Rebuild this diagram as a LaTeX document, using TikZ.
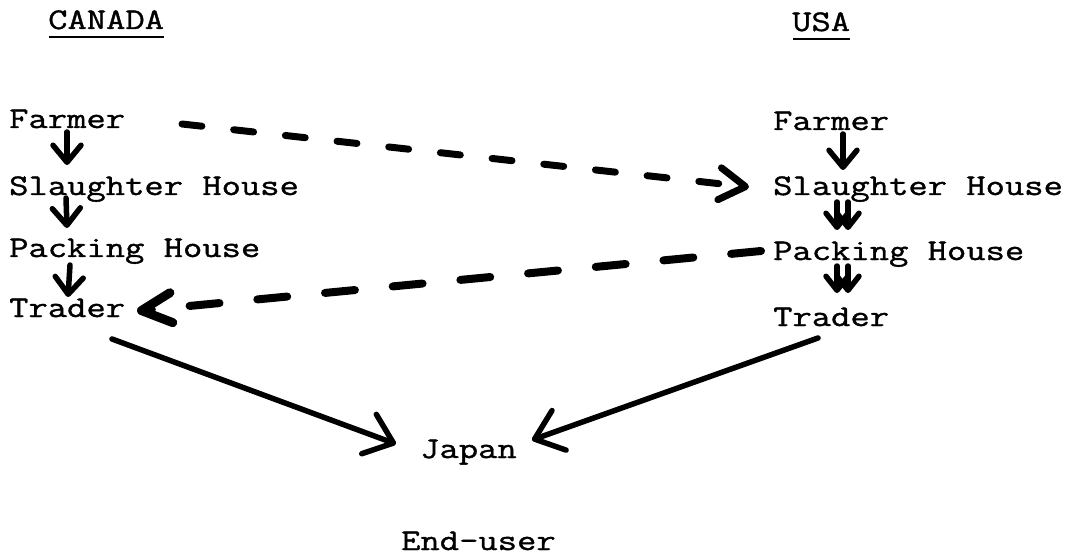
\documentclass[tikz,border=0pt]{standalone}
\usepackage{fontspec}
\newfontfamily\typewriter{Latin Modern Mono}[FakeStretch=1.25,FakeBold=1.2]
\usetikzlibrary{arrows.meta}
\begin{document}
\begin{tikzpicture}[x=1pt,y=-1pt,
  lbl/.style={anchor=base west, inner sep=0pt,
    font=\typewriter\fontsize{30}{36}\selectfont},
  uline/.style={line width=2.5pt},
  ink/.style={line width=5.5pt, line cap=round, line join=round},
  smallhead/.style={-{Straight Barb[length=17pt,width=28pt,round]}},
  twinhead/.style={-{Straight Barb[length=14pt,width=22pt,round]}},
  bighead/.style={-{Straight Barb[length=26pt,width=42pt,round]}},
  dashtop/.style={line width=7pt, line cap=round, dash pattern=on 20pt off 32pt,
    -{Straight Barb[length=26pt,width=32pt,round]}},
  dashlow/.style={line width=8pt, line cap=round, dash pattern=on 30pt off 38pt,
    -{Straight Barb[length=30pt,width=30pt,round,line width=9pt]}}]
\useasboundingbox (0,0) rectangle (1072,559);

% column headings
\node[lbl] (cahd) at (48,29) {CANADA};
\node[lbl] (ushd) at (792,31) {USA};
\draw[uline] ([shift={(1,8)}]cahd.base west) -- ([shift={(0,8)}]cahd.base east);
\draw[uline] ([shift={(1,8)}]ushd.base west) -- ([shift={(0,8)}]ushd.base east);

% Canadian chain
\node[lbl] (cafa) at (9,128) {Farmer};
\node[lbl] (casl) at (9,195) {Slaughter House};
\node[lbl] (capa) at (9,257) {Packing House};
\node[lbl] (catr) at (9,317) {Trader};

% US chain
\node[lbl] (usfa) at (773,130) {Farmer};
\node[lbl] (ussl) at (773,195) {Slaughter House};
\node[lbl] (uspa) at (773,260) {Packing House};
\node[lbl] (ustr) at (773,326) {Trader};

% destination
\node[lbl] (jp) at (420,458) {Japan};
\node[lbl, text depth=0pt] (eu) at (401,550) {End-user};

% Canadian flow
\draw[ink,smallhead] ([shift={(58,4)}]cafa.base west) -- ([shift={(58,-30)}]casl.base west);
\draw[ink,smallhead] ([shift={(57,3)}]casl.base west) -- ([shift={(58,-29)}]capa.base west);
\draw[ink,smallhead] ([shift={(61,8)}]capa.base west) -- ([shift={(59,-20)}]catr.base west);

% US flow
\draw[ink,smallhead] ([shift={(70,4)}]usfa.base west) -- ([shift={(70,-25)}]ussl.base west);
\draw[ink,twinhead] ([shift={(64,7)}]ussl.base west) -- ([shift={(64,-30)}]uspa.base west);
\draw[ink,twinhead] ([shift={(75,7)}]ussl.base west) -- ([shift={(75,-30)}]uspa.base west);
\draw[ink,twinhead] ([shift={(64,6)}]uspa.base west) -- ([shift={(64,-33)}]ustr.base west);
\draw[ink,twinhead] ([shift={(75,6)}]uspa.base west) -- ([shift={(75,-33)}]ustr.base west);

% cross-border flows
\draw[dashtop] ([shift={(173,-4)}]cafa.base west) -- ([shift={(-24,-8)}]ussl.base west);
\draw[dashlow] ([shift={(-12,-9)}]uspa.base west) -- ([shift={(128,-6)}]catr.base west);

% exports to Japan
\draw[ink,bighead] ([shift={(103,22)}]catr.base west) -- ([shift={(-24,-14)}]jp.base west);
\draw[ink,bighead] ([shift={(45,12)}]ustr.base west) -- ([shift={(15,-18)}]jp.base east);
\end{tikzpicture}
\end{document}
